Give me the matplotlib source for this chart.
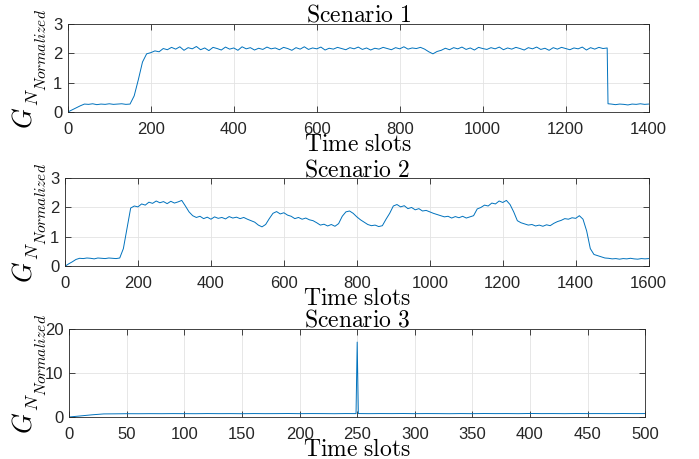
import numpy as np
import matplotlib
matplotlib.use('Agg')
import matplotlib.pyplot as plt

plt.rcParams['mathtext.fontset'] = 'cm'
plt.rcParams['font.family'] = 'Liberation Sans'

# Scenario 1 (read every 10 slots, plus the drop at 1302)
s1_t = list(range(0, 1301, 10)) + [1302] + list(range(1310, 1401, 10))
s1_g = [0.00, 0.07, 0.14, 0.21, 0.27, 0.26, 0.28, 0.25, 0.27, 0.26,
        0.28, 0.26, 0.27, 0.28, 0.26, 0.27, 0.55, 1.10, 1.70, 1.98,
        2.02, 2.08, 2.05, 2.16, 2.12, 2.20, 2.14, 2.22, 2.10, 2.19,
        2.15, 2.23, 2.12, 2.18, 2.09, 2.20, 2.16, 2.11, 2.21, 2.14,
        2.18, 2.10, 2.22, 2.15, 2.19, 2.11, 2.17, 2.13, 2.21, 2.15,
        2.18, 2.12, 2.20, 2.16, 2.10, 2.19, 2.14, 2.22, 2.13, 2.18,
        2.15, 2.21, 2.11, 2.17, 2.14, 2.20, 2.16, 2.12, 2.19, 2.15,
        2.21, 2.13, 2.18, 2.11, 2.17, 2.14, 2.20, 2.16, 2.12, 2.19,
        2.15, 2.22, 2.14, 2.18, 2.16, 2.20, 2.14, 2.05, 1.98, 2.06,
        2.10, 2.17, 2.12, 2.19, 2.15, 2.21, 2.13, 2.18, 2.11, 2.20,
        2.16, 2.13, 2.19, 2.15, 2.21, 2.12, 2.18, 2.14, 2.20, 2.16,
        2.11, 2.19, 2.15, 2.21, 2.13, 2.17, 2.10, 2.19, 2.14, 2.20,
        2.16, 2.12, 2.18, 2.15, 2.21, 2.11, 2.19, 2.14, 2.20, 2.16,
        2.18,
        0.28,
        0.27, 0.25, 0.27, 0.26, 0.24, 0.27, 0.26, 0.28, 0.26, 0.27]

# Scenario 2 (every 10 slots)
s2_t = list(range(0, 1601, 10))
s2_g = [0.00, 0.08, 0.15, 0.23, 0.27, 0.26, 0.28, 0.27, 0.25, 0.28,
        0.27, 0.26, 0.28, 0.27, 0.26, 0.28, 0.60, 1.30, 1.98, 2.05,
        2.02, 2.12, 2.08, 2.18, 2.14, 2.22, 2.16, 2.20, 2.13, 2.21,
        2.15, 2.19, 2.24, 2.05, 1.85, 1.72, 1.66, 1.70, 1.62, 1.67,
        1.60, 1.68, 1.63, 1.66, 1.61, 1.69, 1.64, 1.67, 1.62, 1.66,
        1.60, 1.55, 1.50, 1.40, 1.34, 1.42, 1.62, 1.80, 1.86, 1.78,
        1.82, 1.74, 1.70, 1.62, 1.66, 1.60, 1.64, 1.58, 1.55, 1.48,
        1.40, 1.43, 1.37, 1.42, 1.36, 1.45, 1.70, 1.85, 1.88, 1.80,
        1.68, 1.58, 1.50, 1.42, 1.38, 1.40, 1.35, 1.38, 1.60, 1.80,
        2.05, 2.10, 2.02, 2.06, 1.96, 2.00, 1.92, 1.96, 1.88, 1.90,
        1.85, 1.80, 1.76, 1.72, 1.68, 1.70, 1.64, 1.69, 1.65, 1.70,
        1.64, 1.68, 1.72, 1.95, 2.00, 2.08, 2.05, 2.15, 2.12, 2.22,
        2.17, 2.24, 2.10, 1.85, 1.55, 1.48, 1.44, 1.40, 1.42, 1.37,
        1.40, 1.36, 1.41, 1.38, 1.46, 1.52, 1.56, 1.62, 1.60, 1.65,
        1.63, 1.72, 1.60, 1.20, 0.60, 0.40, 0.36, 0.32, 0.28, 0.27,
        0.25, 0.26, 0.24, 0.26, 0.25, 0.27, 0.25, 0.24, 0.26, 0.25,
        0.26]

# Scenario 3 (every 10 slots, plus the spike at 250)
s3_t = list(range(0, 241, 10)) + [249, 250, 251] + list(range(260, 501, 10))
s3_g = [0.00, 0.25, 0.50, 0.70, 0.72, 0.75, 0.74, 0.76, 0.75, 0.77,
        0.76, 0.75, 0.78, 0.76, 0.77, 0.75, 0.78, 0.76, 0.77, 0.79,
        0.76, 0.78, 0.77, 0.75, 0.78,
        0.77, 17.0, 0.78,
        0.76, 0.78, 0.77, 0.79, 0.76, 0.78, 0.77, 0.75, 0.78, 0.76,
        0.79, 0.77, 0.78, 0.76, 0.80, 0.77, 0.78, 0.76, 0.79, 0.77,
        0.78, 0.76, 0.79, 0.77, 0.78]

panels = [
    ('Scenario 1', s1_t, s1_g, 1400, np.arange(0, 1401, 200), 3, [0, 1, 2, 3],
     [0.097, 0.756, 0.831, 0.192]),
    ('Scenario 2', s2_t, s2_g, 1600, np.arange(0, 1601, 200), 3, [0, 1, 2, 3],
     [0.093, 0.420, 0.835, 0.192]),
    ('Scenario 3', s3_t, s3_g, 500, np.arange(0, 501, 50), 20, [0, 10, 20],
     [0.099, 0.0915, 0.824, 0.192]),
]

W, H = 699, 459
fig = plt.figure(figsize=(W / 100, H / 100), dpi=100)

for title, t, g, xmax, xt, ymax, yt, pos in panels:
    ax = fig.add_axes(pos)
    ax.plot(np.array(t), np.array(g), color='#0072BD', linewidth=0.7)
    ax.set_xlim(0, xmax)
    ax.set_ylim(0, ymax)
    ax.set_xticks(xt)
    ax.set_yticks(yt)
    ax.grid(True, color='#e3e3e3', linewidth=0.6)
    ax.set_axisbelow(True)
    ax.tick_params(direction='in', top=True, right=True, length=4,
                   width=0.6, labelsize=12, colors='#262626')
    ax.tick_params(axis='x', pad=7)
    ax.tick_params(axis='y', pad=4)
    for s in ax.spines.values():
        s.set_color('#262626')
        s.set_linewidth(0.6)
    ax.set_title(r'$\mathrm{' + title.replace(' ', r'\ ') + '}$',
                 fontsize=17, pad=1.5)
    ax.set_xlabel(r'$\mathrm{Time\ slots}$', fontsize=17, labelpad=-2)

    # y label G_{N_{Normalized}} built from three pieces (MATLAB-like sizes)
    yb = pos[1] * H
    fig.text(25 / W, (yb - 17) / H, r'$G$', rotation=90, fontsize=19,
             ha='center', va='bottom')
    fig.text(33 / W, (yb + 6) / H, r'$N$', rotation=90, fontsize=13,
             ha='center', va='bottom')
    fig.text(41.5 / W, (yb + 21) / H, r'$Normalized$', rotation=90,
             fontsize=11, ha='center', va='bottom')

fig.savefig('out.png', dpi=100)
